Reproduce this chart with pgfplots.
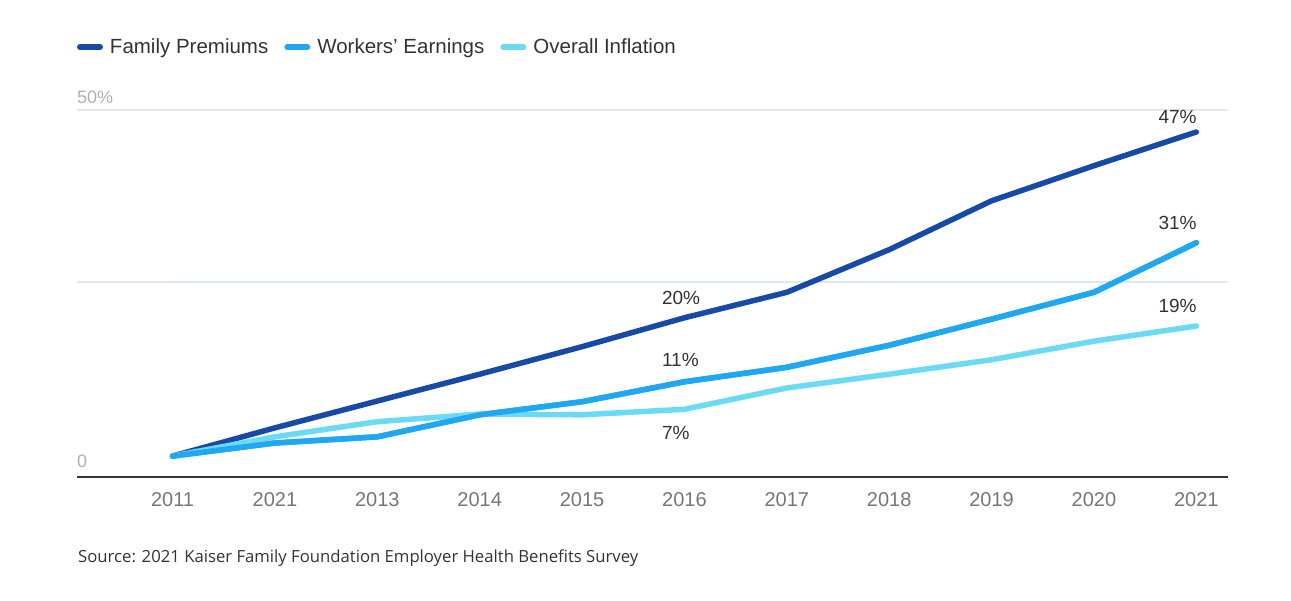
\documentclass[border=0pt]{standalone}
\usepackage{pgfplots}
\pgfplotsset{compat=1.18}
\usepackage{fontspec}
\setmainfont{Liberation Sans}
\newfontfamily\srcfont{Open Sans}
\definecolor{fam}{HTML}{1749A6}
\definecolor{work}{HTML}{1FA7F2}
\definecolor{infl}{HTML}{6BDAF5}
\definecolor{axisline}{HTML}{333333}
\definecolor{tickgray}{HTML}{767676}
\definecolor{ylabgray}{HTML}{B0B0B0}
\definecolor{gridgray}{HTML}{E8E8E8}
\definecolor{gridblue}{HTML}{DCE8F1}
\definecolor{txt}{HTML}{333333}
\definecolor{srcgray}{HTML}{333333}

\pgfplotstableread{
x fam work infl
0 -0.3 -0.3 -0.3
1 3.8 1.6 2.5
2 7.7 2.5 4.7
3 11.6 5.7 5.8
4 15.6 7.6 5.7
5 19.8 10.5 6.5
6 23.5 12.6 9.6
7 29.7 15.8 11.6
8 36.8 19.6 13.7
9 41.9 23.5 16.4
10 46.8 30.7 18.6
}\datatable

\begin{document}
\begin{tikzpicture}
\path[use as bounding box] (-77pt,-123pt) rectangle (1214pt,477pt);
\begin{axis}[
  at={(0pt,0pt)}, anchor=south west,
  scale only axis, width=1151pt, height=367pt,
  xmin=-0.933, xmax=10.31, ymin=-3.34, ymax=50,
  axis x line=bottom, axis y line=left,
  x axis line style={-, draw=axisline, line width=1.6pt},
  y axis line style={draw=none},
  xtick={0,...,10},
  xticklabels={2011,2021,2013,2014,2015,2016,2017,2018,2019,2020,2021},
  xticklabel style={font=\fontsize{20}{24}\selectfont, text=tickgray, anchor=base, yshift=-27pt, inner sep=0pt},
  xtick style={draw=none},
  ytick={25,50}, yticklabels={}, ytick style={draw=none},
  ymajorgrids, grid style={line width=1.6pt, draw=gridgray},
  clip=false,
  legend columns=3,
  legend style={at={(rel axis cs:0,1)}, anchor=west, yshift=63pt, draw=none, fill=none,
    inner sep=0pt, outer sep=0pt, font=\fontsize{20.5}{24}\selectfont, text=txt,
    nodes={inner sep=0pt},
    /tikz/every odd column/.append style={column sep=7pt},
    /tikz/every even column/.append style={column sep=16pt}},
  legend image code/.code={\draw[#1, line width=6pt, line cap=round] (3pt,0pt) -- (23pt,0pt);},
  every axis plot/.append style={line width=5.5pt, line cap=round, line join=round},
]
\addplot[forget plot, line width=1.6pt, draw=gridblue, line cap=butt] coordinates {(-0.044,25) (10.03,25)};
\addplot[fam] table[x=x, y=fam] {\datatable};
\addlegendentry{Family Premiums}
\addplot[work] table[x=x, y=work] {\datatable};
\addlegendentry{Workers’ Earnings}
\addplot[infl] table[x=x, y=infl] {\datatable};
\addlegendentry{Overall Inflation}
\addplot[work, forget plot] table[x=x, y=work] {\datatable};

\begin{scope}[every node/.style={inner sep=0pt, font=\fontsize{19}{22}\selectfont, text=txt}]
\node[anchor=base east] at (axis cs:10.005,47.97) {47\%};
\node[anchor=base east] at (axis cs:10.005,32.56) {31\%};
\node[anchor=base east] at (axis cs:10.005,20.64) {19\%};
\node[anchor=base west] at (axis cs:4.78,21.66) {20\%};
\node[anchor=base west] at (axis cs:4.78,12.65) {11\%};
\node[anchor=base west] at (axis cs:4.78,2.18) {7\%};
\end{scope}
\node[anchor=base west, inner sep=0pt, font=\fontsize{18}{22}\selectfont, text=ylabgray] at (axis cs:-0.933,51.0) {50\%};
\node[anchor=base west, inner sep=0pt, font=\fontsize{18}{22}\selectfont, text=ylabgray] at (axis cs:-0.933,-2.03) {0};
\end{axis}
\node[anchor=base west, inner sep=0pt, font=\srcfont\fontsize{16.7}{20}\selectfont, text=srcgray] at (1pt,-85pt) {Source: 2021 Kaiser Family Foundation Employer Health Benefits Survey};
\end{tikzpicture}
\end{document}
